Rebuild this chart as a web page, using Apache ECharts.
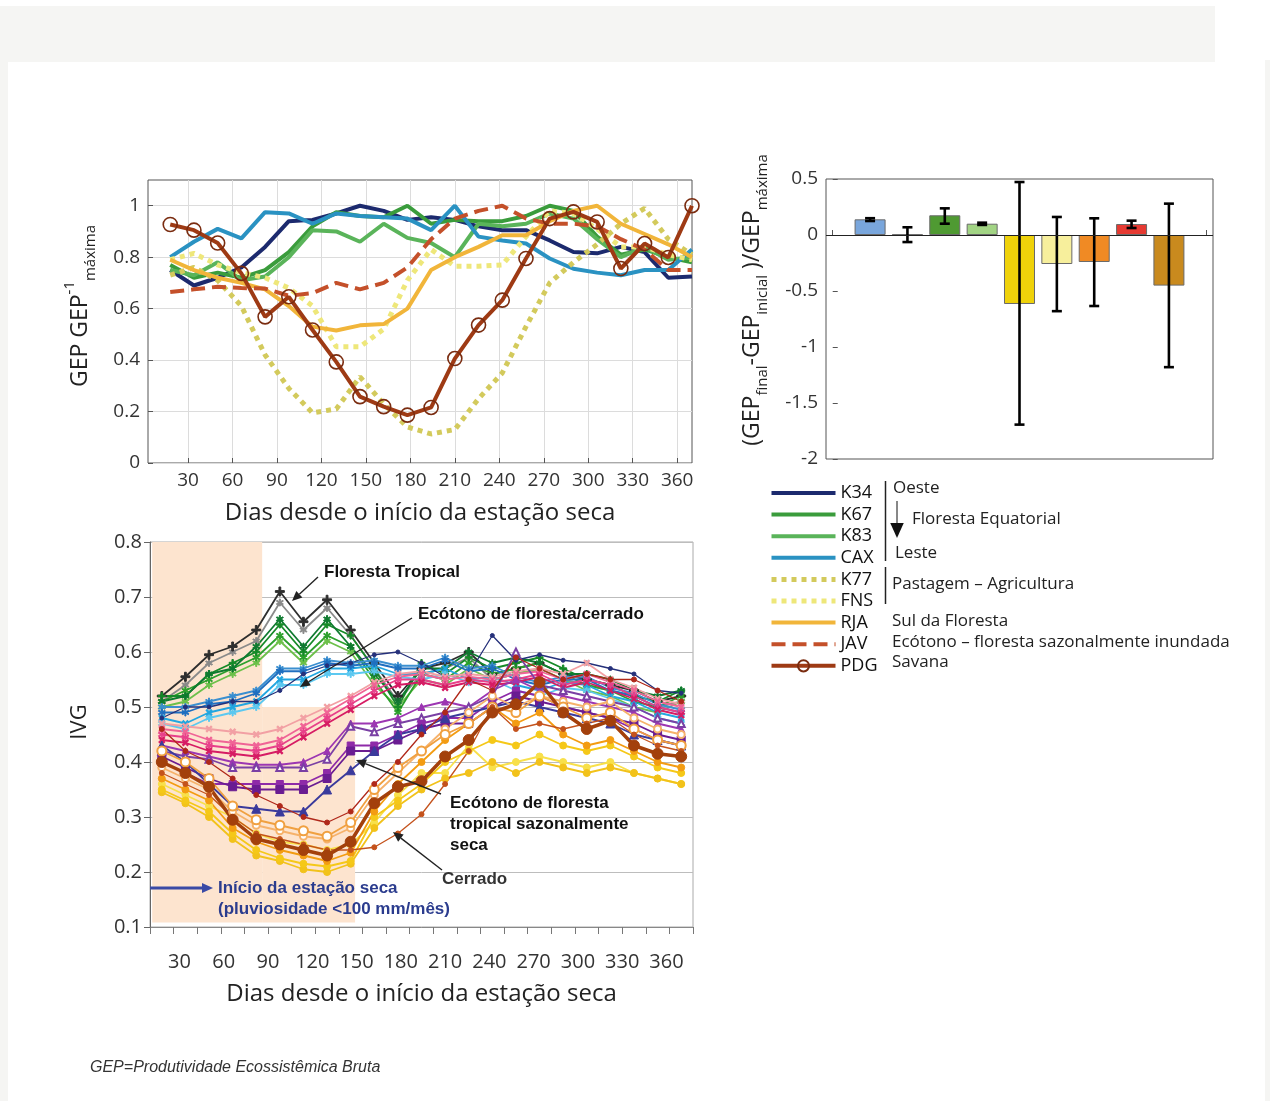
<!DOCTYPE html>
<html>
<head>
<meta charset="utf-8">
<script src="https://cdn.jsdelivr.net/npm/echarts@6/dist/echarts.min.js"></script>
<style>
  html, body { margin: 0; padding: 0; background: #fff; }
  #chart { width: 1270px; height: 1101px; }
</style>
</head>
<body>
<div id="chart"></div>
<script>
// ---- GEP / GEP máxima (compostos de 16 dias) ----
const gepDays = [18, 34, 50, 66, 82, 98, 114, 130, 146, 162, 178, 194, 210, 226, 242, 258, 274, 290, 306, 322, 338, 354, 370];
const k34 = [0.75, 0.69, 0.72, 0.76, 0.84, 0.94, 0.945, 0.97, 1.0, 0.98, 0.945, 0.955, 0.945, 0.92, 0.905, 0.905, 0.865, 0.82, 0.815, 0.84, 0.82, 0.72, 0.725];
const k67 = [0.77, 0.72, 0.74, 0.72, 0.75, 0.82, 0.92, 0.975, 0.96, 0.955, 1.0, 0.93, 0.945, 0.94, 0.94, 0.96, 1.0, 0.98, 0.88, 0.81, 0.83, 0.80, 0.78];
const k83 = [0.75, 0.73, 0.78, 0.71, 0.725, 0.80, 0.905, 0.90, 0.86, 0.93, 0.875, 0.855, 0.80, 0.93, 0.92, 0.93, 0.97, 0.95, 0.87, 0.80, 0.84, 0.79, 0.80];
const cax = [0.80, 0.86, 0.91, 0.873, 0.975, 0.97, 0.93, 0.97, 0.96, 0.955, 0.95, 0.905, 1.0, 0.88, 0.865, 0.853, 0.795, 0.755, 0.74, 0.73, 0.75, 0.75, 0.83];
const k77 = [0.73, 0.76, 0.71, 0.61, 0.42, 0.29, 0.195, 0.21, 0.335, 0.23, 0.14, 0.113, 0.13, 0.25, 0.35, 0.53, 0.70, 0.78, 0.85, 0.93, 0.99, 0.87, 0.81];
const fns = [0.79, 0.815, 0.77, 0.74, 0.72, 0.68, 0.61, 0.452, 0.452, 0.52, 0.71, 0.83, 0.765, 0.765, 0.77, 0.88, 0.98, 0.97, 0.91, 0.84, 0.84, 0.81, 0.79];
const rja = [0.79, 0.75, 0.72, 0.70, 0.675, 0.61, 0.53, 0.515, 0.535, 0.54, 0.60, 0.75, 0.80, 0.84, 0.885, 0.885, 0.94, 0.98, 1.0, 0.93, 0.89, 0.85, 0.80];
const jav = [0.665, 0.675, 0.685, 0.68, 0.678, 0.65, 0.66, 0.70, 0.675, 0.70, 0.76, 0.87, 0.95, 0.98, 1.0, 0.95, 0.93, 0.93, 0.92, 0.87, 0.83, 0.75, 0.75];
const pdg = [0.927, 0.905, 0.855, 0.737, 0.568, 0.646, 0.517, 0.393, 0.258, 0.219, 0.186, 0.216, 0.406, 0.536, 0.633, 0.795, 0.95, 0.976, 0.937, 0.756, 0.853, 0.799, 1.0];
const gepTicksX = [30, 60, 90, 120, 150, 180, 210, 240, 270, 300, 330, 360];
const gepTicksY = [0, 0.2, 0.4, 0.6, 0.8, 1];

// ---- (GEP final - GEP inicial)/GEP máxima ----
const barPos = [1, 2, 3, 4, 5, 6, 7, 8, 9];
const barValues = [0.14, 0.005, 0.176, 0.101, -0.616, -0.259, -0.241, 0.098, -0.452];
const barErrLow = [0.125, -0.063, 0.101, 0.09, -1.693, -0.68, -0.634, 0.0625, -1.18];
const barErrHigh = [0.15, 0.069, 0.238, 0.11, 0.473, 0.161, 0.149, 0.128, 0.28];
const barTicksY = [0.5, 0, -0.5, -1, -1.5, -2];
const barColors = ['#79a6dc', '#f3f3f1', '#4f9a32', '#a2d484', '#efd20a', '#f7ef9c', '#f08a24', '#e63a32', '#c98a1e'];

// ---- IVG ----
const ivgDays = [18, 34, 50, 66, 82, 98, 114, 130, 146, 162, 178, 194, 210, 226, 242, 258, 274, 290, 306, 322, 338, 354, 370];
const ivgTickDays = [10, 26, 42, 58, 74, 90, 106, 122, 138, 154, 170, 186, 202, 218, 234, 250, 266, 282, 298, 314, 330, 346, 362, 378];
const ivgLabelDays = [30, 60, 90, 120, 150, 180, 210, 240, 270, 300, 330, 360];
// Floresta Tropical
const trop1 = [0.52, 0.555, 0.595, 0.61, 0.64, 0.71, 0.655, 0.695, 0.64, 0.58, 0.52, 0.57, 0.58, 0.60, 0.56, 0.57, 0.58, 0.56, 0.55, 0.54, 0.53, 0.51, 0.52];
const trop2 = [0.51, 0.54, 0.58, 0.60, 0.62, 0.69, 0.64, 0.68, 0.63, 0.57, 0.51, 0.56, 0.57, 0.59, 0.55, 0.56, 0.57, 0.55, 0.54, 0.53, 0.52, 0.50, 0.51];
const trop3 = [0.52, 0.52, 0.56, 0.58, 0.60, 0.65, 0.60, 0.65, 0.63, 0.57, 0.50, 0.58, 0.56, 0.59, 0.57, 0.58, 0.59, 0.57, 0.55, 0.54, 0.52, 0.51, 0.53];
const trop4 = [0.51, 0.53, 0.55, 0.57, 0.59, 0.63, 0.59, 0.63, 0.61, 0.55, 0.49, 0.56, 0.55, 0.58, 0.56, 0.57, 0.58, 0.56, 0.54, 0.53, 0.51, 0.50, 0.52];
const trop5 = [0.50, 0.51, 0.54, 0.56, 0.58, 0.62, 0.58, 0.62, 0.60, 0.54, 0.50, 0.55, 0.54, 0.57, 0.55, 0.56, 0.57, 0.55, 0.53, 0.52, 0.50, 0.49, 0.51];
const trop6 = [0.51, 0.52, 0.56, 0.57, 0.61, 0.66, 0.61, 0.66, 0.61, 0.56, 0.51, 0.57, 0.57, 0.60, 0.58, 0.59, 0.58, 0.56, 0.56, 0.55, 0.53, 0.52, 0.53];
// Ecótono floresta/cerrado
const eco1 = [0.48, 0.50, 0.50, 0.51, 0.51, 0.53, 0.56, 0.575, 0.58, 0.595, 0.60, 0.58, 0.555, 0.56, 0.63, 0.585, 0.595, 0.585, 0.58, 0.57, 0.56, 0.53, 0.525];
const eco2 = [0.49, 0.49, 0.505, 0.51, 0.525, 0.565, 0.565, 0.58, 0.575, 0.58, 0.57, 0.57, 0.585, 0.565, 0.57, 0.55, 0.54, 0.55, 0.55, 0.53, 0.52, 0.50, 0.49];
const eco3 = [0.48, 0.47, 0.49, 0.50, 0.51, 0.55, 0.55, 0.57, 0.57, 0.575, 0.56, 0.56, 0.57, 0.55, 0.555, 0.54, 0.53, 0.545, 0.54, 0.52, 0.51, 0.49, 0.48];
const eco4 = [0.47, 0.46, 0.48, 0.49, 0.50, 0.54, 0.54, 0.56, 0.56, 0.565, 0.555, 0.55, 0.56, 0.545, 0.55, 0.53, 0.52, 0.535, 0.53, 0.515, 0.50, 0.48, 0.47];
const eco5 = [0.50, 0.50, 0.51, 0.52, 0.53, 0.57, 0.57, 0.585, 0.58, 0.585, 0.575, 0.575, 0.59, 0.57, 0.575, 0.555, 0.545, 0.555, 0.555, 0.535, 0.525, 0.505, 0.495];
// transição (rosas)
const pink1 = [0.45, 0.445, 0.43, 0.425, 0.42, 0.43, 0.455, 0.48, 0.505, 0.53, 0.55, 0.55, 0.54, 0.55, 0.545, 0.55, 0.56, 0.54, 0.55, 0.54, 0.52, 0.50, 0.49];
const pink2 = [0.46, 0.455, 0.44, 0.435, 0.43, 0.44, 0.465, 0.49, 0.515, 0.54, 0.555, 0.56, 0.55, 0.555, 0.55, 0.56, 0.565, 0.55, 0.56, 0.545, 0.53, 0.51, 0.50];
const pink3 = [0.47, 0.465, 0.46, 0.455, 0.45, 0.46, 0.48, 0.50, 0.52, 0.545, 0.56, 0.565, 0.555, 0.56, 0.555, 0.565, 0.57, 0.56, 0.58, 0.55, 0.535, 0.515, 0.505];
const pink4 = [0.44, 0.435, 0.42, 0.415, 0.41, 0.42, 0.445, 0.47, 0.495, 0.52, 0.54, 0.545, 0.535, 0.545, 0.54, 0.545, 0.555, 0.535, 0.545, 0.53, 0.515, 0.495, 0.485];
// Ecótono floresta tropical sazonalmente seca
const dry1 = [0.42, 0.41, 0.405, 0.39, 0.39, 0.39, 0.39, 0.405, 0.465, 0.455, 0.47, 0.48, 0.49, 0.50, 0.52, 0.60, 0.54, 0.53, 0.52, 0.51, 0.50, 0.48, 0.47];
const dry2 = [0.43, 0.42, 0.41, 0.40, 0.395, 0.395, 0.40, 0.42, 0.47, 0.47, 0.48, 0.50, 0.51, 0.50, 0.53, 0.55, 0.53, 0.52, 0.51, 0.50, 0.49, 0.47, 0.46];
const dry3 = [0.41, 0.39, 0.37, 0.355, 0.35, 0.35, 0.35, 0.37, 0.42, 0.42, 0.44, 0.46, 0.47, 0.47, 0.50, 0.52, 0.51, 0.50, 0.49, 0.48, 0.47, 0.45, 0.44];
const dry4 = [0.40, 0.38, 0.36, 0.36, 0.36, 0.36, 0.36, 0.38, 0.43, 0.43, 0.45, 0.47, 0.48, 0.48, 0.51, 0.53, 0.52, 0.50, 0.49, 0.48, 0.46, 0.44, 0.43];
const dry5 = [0.43, 0.40, 0.36, 0.32, 0.315, 0.31, 0.31, 0.35, 0.385, 0.42, 0.45, 0.46, 0.48, 0.49, 0.50, 0.51, 0.50, 0.49, 0.48, 0.47, 0.45, 0.44, 0.43];
// Cerrado
const cer1 = [0.40, 0.38, 0.355, 0.295, 0.26, 0.25, 0.24, 0.23, 0.255, 0.325, 0.355, 0.365, 0.41, 0.44, 0.49, 0.505, 0.545, 0.49, 0.46, 0.475, 0.43, 0.415, 0.41];
const cer2 = [0.42, 0.40, 0.37, 0.32, 0.295, 0.285, 0.275, 0.265, 0.29, 0.35, 0.39, 0.42, 0.45, 0.47, 0.50, 0.49, 0.52, 0.50, 0.48, 0.49, 0.46, 0.44, 0.43];
const cer3 = [0.35, 0.33, 0.31, 0.27, 0.24, 0.225, 0.215, 0.21, 0.22, 0.30, 0.33, 0.36, 0.40, 0.42, 0.44, 0.43, 0.45, 0.43, 0.42, 0.43, 0.41, 0.39, 0.38];
const cer4 = [0.37, 0.35, 0.33, 0.28, 0.255, 0.24, 0.23, 0.22, 0.235, 0.31, 0.36, 0.40, 0.44, 0.47, 0.50, 0.47, 0.49, 0.45, 0.43, 0.44, 0.42, 0.40, 0.39];
const cer5 = [0.36, 0.34, 0.32, 0.30, 0.27, 0.255, 0.25, 0.24, 0.25, 0.29, 0.34, 0.38, 0.38, 0.43, 0.39, 0.40, 0.41, 0.40, 0.39, 0.40, 0.38, 0.37, 0.36];
const cer6 = [0.38, 0.36, 0.34, 0.30, 0.27, 0.26, 0.25, 0.24, 0.24, 0.245, 0.27, 0.305, 0.36, 0.42, 0.50, 0.46, 0.47, 0.46, 0.47, 0.48, 0.45, 0.43, 0.42];
const cer7 = [0.46, 0.42, 0.40, 0.37, 0.34, 0.32, 0.30, 0.29, 0.31, 0.36, 0.40, 0.45, 0.49, 0.55, 0.53, 0.59, 0.57, 0.55, 0.56, 0.55, 0.55, 0.53, 0.51];
const cer8 = [0.39, 0.37, 0.35, 0.31, 0.285, 0.275, 0.265, 0.26, 0.28, 0.34, 0.38, 0.42, 0.46, 0.49, 0.52, 0.50, 0.52, 0.51, 0.50, 0.51, 0.48, 0.46, 0.45];
const cer9 = [0.345, 0.325, 0.30, 0.26, 0.23, 0.22, 0.205, 0.20, 0.215, 0.28, 0.32, 0.35, 0.37, 0.38, 0.40, 0.38, 0.40, 0.39, 0.38, 0.39, 0.38, 0.37, 0.36];

const FONT = '"Open Sans", "DejaVu Sans", sans-serif';
const ARIAL = '"Liberation Sans", Arial, sans-serif';

const PLUS = 'path://M4,0H6V4H10V6H6V10H4V6H0V4H4Z';
const STAR = 'path://M4.3,0H5.7V3.8L9,1.9L9.7,3.1L6.4,5L9.7,6.9L9,8.1L5.7,6.2V10H4.3V6.2L1,8.1L0.3,6.9L3.6,5L0.3,3.1L1,1.9L4.3,3.8Z';

const chart = echarts.init(document.getElementById('chart'));

// séries do painel superior esquerdo
const gepLines = [
  { name: 'K34', values: k34, color: '#1c2a6e' },
  { name: 'K67', values: k67, color: '#3a9c3c' },
  { name: 'K83', values: k83, color: '#5ab45a' },
  { name: 'CAX', values: cax, color: '#2a92c2' },
  { name: 'K77', values: k77, color: '#d3ca5c', type: 'dotted', width: 5 },
  { name: 'FNS', values: fns, color: '#eee77a', type: 'dotted', width: 5 },
  { name: 'RJA', values: rja, color: '#f1b53a' },
  { name: 'JAV', values: jav, color: '#c4502a', type: [14, 7] },
  { name: 'PDG', values: pdg, color: '#9e3a14', circles: true }
];

const gepSeries = gepLines.map(l => ({
  name: l.name,
  type: 'line',
  xAxisIndex: 0,
  yAxisIndex: 0,
  data: gepDays.map((d, i) => [d, l.values[i]]),
  symbol: l.circles ? 'circle' : 'none',
  symbolSize: 14,
  showSymbol: !!l.circles,
  itemStyle: l.circles ? { color: 'rgba(0,0,0,0)', borderColor: '#7a2c10', borderWidth: 1.6 } : { color: l.color },
  lineStyle: { color: l.color, width: l.width || 4, type: l.type || 'solid', cap: 'butt' },
  silent: true,
  z: 3
}));

// séries do IVG
const ivgLines = [
  { values: trop2, color: '#8a8a8a', symbol: STAR },
  { values: trop1, color: '#2e2e2e', symbol: PLUS, size: 9 },
  { values: trop5, color: '#6cc04a', symbol: STAR },
  { values: trop4, color: '#2ca02c', symbol: STAR },
  { values: trop3, color: '#168a28', symbol: PLUS },
  { values: trop6, color: '#0f7a30', symbol: STAR },
  { values: eco4, color: '#5cc8f0', symbol: STAR },
  { values: eco3, color: '#22a6e0', symbol: PLUS, rotate: 45 },
  { values: eco5, color: '#3b8fd0', symbol: STAR },
  { values: eco2, color: '#1f6fc0', symbol: STAR },
  { values: eco1, color: '#25307a', symbol: 'circle', size: 4, width: 1.3 },
  { values: pink3, color: '#f2a0a4', symbol: PLUS, rotate: 45 },
  { values: pink2, color: '#f06496', symbol: PLUS, rotate: 45 },
  { values: pink1, color: '#e8408a', symbol: STAR },
  { values: pink4, color: '#d61c64', symbol: PLUS, rotate: 45 },
  { values: dry2, color: '#9c36b2', symbol: 'triangle' },
  { values: dry1, color: '#7a40a4', symbol: 'emptyTriangle' },
  { values: dry4, color: '#8e2aa8', symbol: 'rect' },
  { values: dry3, color: '#6a1c92', symbol: 'rect', size: 8 },
  { values: dry5, color: '#3a3a9c', symbol: 'triangle', size: 9 },
  { values: cer5, color: '#f8e04a', symbol: 'circle' },
  { values: cer9, color: '#f2c21a', symbol: 'circle' },
  { values: cer3, color: '#f5c818', symbol: 'circle' },
  { values: cer4, color: '#f39c12', symbol: 'circle' },
  { values: cer8, color: '#f6b26b', symbol: 'emptyCircle' },
  { values: cer2, color: '#f0a040', symbol: 'emptyCircle', size: 9 },
  { values: cer6, color: '#c4521c', symbol: 'circle', size: 5, width: 1.3 },
  { values: cer7, color: '#b0281a', symbol: 'circle', size: 5, width: 1.3 },
  { values: cer1, color: '#a3400c', symbol: 'circle', size: 11, width: 3.5 }
];

const ivgSeries = ivgLines.map(l => ({
  type: 'line',
  xAxisIndex: 2,
  yAxisIndex: 2,
  data: ivgDays.map((d, i) => [d, l.values[i]]),
  symbol: l.symbol,
  symbolSize: l.size || 7,
  symbolRotate: l.rotate || 0,
  itemStyle: { color: l.color, borderColor: l.color },
  lineStyle: { color: l.color, width: l.width || 1.8 },
  silent: true,
  z: 3
}));

// faixa da estação seca
const shadeSeries = {
  type: 'line',
  xAxisIndex: 2,
  yAxisIndex: 2,
  data: [],
  silent: true,
  z: 1,
  markArea: {
    silent: true,
    itemStyle: { color: '#fde4cf' },
    data: [
      [{ coord: [11.5, 0.108] }, { coord: [86, 0.8] }],
      [{ coord: [86, 0.108] }, { coord: [149, 0.5] }]
    ]
  }
};

const barSeries = {
  type: 'bar',
  xAxisIndex: 1,
  yAxisIndex: 1,
  barWidth: 31,
  data: barValues.map((v, i) => ({ value: [barPos[i], v], itemStyle: { color: barColors[i] } })),
  itemStyle: { borderColor: '#6a6a6a', borderWidth: 1 },
  silent: true,
  z: 2,
  markLine: {
    silent: true,
    symbol: 'none',
    label: { show: false },
    lineStyle: { color: '#222', width: 1, type: 'solid' },
    data: [{ yAxis: 0 }]
  }
};

const errSeries = {
  type: 'custom',
  xAxisIndex: 1,
  yAxisIndex: 1,
  data: barPos.map((p, i) => [p, barErrLow[i], barErrHigh[i]]),
  encode: { x: 0, y: [1, 2] },
  silent: true,
  z: 4,
  renderItem: function (params, api) {
    const top = api.coord([api.value(0), api.value(2)]);
    const bot = api.coord([api.value(0), api.value(1)]);
    const cap = 5;
    const st = { stroke: '#000', lineWidth: 2.6 };
    return {
      type: 'group',
      children: [
        { type: 'line', shape: { x1: top[0], y1: top[1], x2: bot[0], y2: bot[1] }, style: st },
        { type: 'line', shape: { x1: top[0] - cap, y1: top[1], x2: top[0] + cap, y2: top[1] }, style: st },
        { type: 'line', shape: { x1: bot[0] - cap, y1: bot[1], x2: bot[0] + cap, y2: bot[1] }, style: st }
      ]
    };
  }
};

function arrow(x1, y1, x2, y2, color, w, head) {
  const a = Math.atan2(y2 - y1, x2 - x1);
  const h = head || 9;
  const bx = x2 - h * Math.cos(a), by = y2 - h * Math.sin(a);
  const px = -Math.sin(a) * h * 0.45, py = Math.cos(a) * h * 0.45;
  return {
    type: 'group',
    silent: true,
    children: [
      { type: 'line', z: 10, shape: { x1: x1, y1: y1, x2: bx, y2: by }, style: { stroke: color, lineWidth: w } },
      { type: 'polygon', z: 10, shape: { points: [[x2, y2], [bx + px, by + py], [bx - px, by - py]] }, style: { fill: color } }
    ]
  };
}

function txt(x, y, text, opts) {
  return {
    type: 'text', x: x, y: y, silent: true, z: 10,
    style: Object.assign({
      text: text, fontFamily: FONT, fontSize: 17, fill: '#222',
      align: 'left', verticalAlign: 'middle'
    }, opts || {})
  };
}

const annBold = { fontFamily: ARIAL, fontWeight: 'bold', fontSize: 17, fill: '#111' };
const annBlue = { fontFamily: ARIAL, fontWeight: 'bold', fontSize: 17, fill: '#2b3c8e' };

const richTitle = {
  m: { fontFamily: FONT, fontSize: 23, fill: '#222', lineHeight: 36 },
  sup: { fontFamily: FONT, fontSize: 15, fill: '#222', verticalAlign: 'top', lineHeight: 36 },
  sub: { fontFamily: FONT, fontSize: 15, fill: '#222', verticalAlign: 'bottom', lineHeight: 36 }
};

const graphics = [
  // fundo
  { type: 'rect', shape: { x: 0, y: 6, width: 1215, height: 56 }, style: { fill: '#f5f5f3' }, z: -10, silent: true },
  { type: 'rect', shape: { x: 0, y: 62, width: 8, height: 1039 }, style: { fill: '#f5f5f3' }, z: -10, silent: true },
  { type: 'rect', shape: { x: 1265, y: 60, width: 5, height: 1041 }, style: { fill: '#f5f5f3' }, z: -10, silent: true },
  // títulos dos eixos y
  {
    type: 'text', x: 80, y: 306, rotation: Math.PI / 2, silent: true,
    style: { text: '{m|GEP GEP}{sup|-1}{sub|máxima}', align: 'center', verticalAlign: 'middle', rich: richTitle }
  },
  {
    type: 'text', x: 752, y: 300, rotation: Math.PI / 2, silent: true,
    style: {
      text: '{m|(GEP}{sub|final}{m|-GEP}{sub|inicial}{m| )/GEP}{sub|máxima}',
      align: 'center', verticalAlign: 'middle', rich: richTitle
    }
  },
  {
    type: 'text', x: 80, y: 722, rotation: Math.PI / 2, silent: true,
    style: { text: 'IVG', fontFamily: FONT, fontSize: 22, fill: '#222', align: 'center', verticalAlign: 'middle' }
  },
  // legenda: descrições
  txt(893, 488, 'Oeste'),
  txt(912, 519, 'Floresta Equatorial'),
  txt(895, 553, 'Leste'),
  txt(892, 584, 'Pastagem – Agricultura'),
  txt(892, 621, 'Sul da Floresta'),
  txt(892, 642, 'Ecótono – floresta sazonalmente inundada'),
  txt(892, 662, 'Savana'),
  { type: 'line', silent: true, shape: { x1: 885.5, y1: 481, x2: 885.5, y2: 561 }, style: { stroke: '#222', lineWidth: 1.5 } },
  { type: 'line', silent: true, shape: { x1: 885.5, y1: 567, x2: 885.5, y2: 604 }, style: { stroke: '#222', lineWidth: 1.5 } },
  arrow(897, 501, 897, 538, '#111', 1, 15),
  // anotações do IVG
  txt(324, 572, 'Floresta Tropical', annBold),
  arrow(318, 577, 292, 601, '#222', 1.4, 10),
  txt(418, 614, 'Ecótono de floresta/cerrado', annBold),
  arrow(412, 618, 300, 687, '#222', 1.4, 10),
  txt(450, 803, 'Ecótono de floresta', annBold),
  txt(450, 824, 'tropical sazonalmente', annBold),
  txt(450, 845, 'seca', annBold),
  arrow(441, 794, 356, 760, '#222', 1.4, 10),
  txt(442, 879, 'Cerrado', Object.assign({}, annBold, { fill: '#333' })),
  arrow(442, 870, 393, 832, '#222', 1.4, 10),
  arrow(150, 888, 213, 888, '#3a4aa6', 3, 11),
  txt(218, 888, 'Início da estação seca', annBlue),
  txt(218, 909, '(pluviosidade <100 mm/mês)', annBlue),
  // nota
  txt(90, 1068, 'GEP=Produtividade Ecossistêmica Bruta', { fontFamily: ARIAL, fontStyle: 'italic', fontSize: 16, fill: '#333' })
];

const tickLabel = { fontFamily: FONT, fontSize: 19, color: '#333' };

chart.setOption({
  animation: false,
  backgroundColor: '#fff',
  grid: [
    { left: 148, top: 180, width: 544, height: 283, show: true, borderColor: '#555', borderWidth: 1 },
    { left: 826, top: 179, width: 387, height: 280, show: true, borderColor: '#555', borderWidth: 1 },
    { left: 150, top: 542, width: 543, height: 385, show: true, borderColor: '#aaa', borderWidth: 1 }
  ],
  legend: {
    orient: 'vertical',
    left: 764,
    top: 479,
    itemWidth: 64,
    itemHeight: 14,
    itemGap: 3.6,
    selectedMode: false,
    lineStyle: { width: 'inherit', type: 'inherit' },
    textStyle: { fontFamily: FONT, fontSize: 18, color: '#111', lineHeight: 14 },
    data: gepLines.map(l => l.circles
      ? { name: l.name }
      : { name: l.name, itemStyle: { opacity: 0 } })
  },
  xAxis: [
    {
      type: 'value', gridIndex: 0, min: 3, max: 370,
      axisLine: { show: false },
      axisTick: { show: true, inside: true, length: 5, customValues: gepTicksX, lineStyle: { color: '#555' } },
      axisLabel: { ...tickLabel, margin: 8, customValues: gepTicksX },
      splitLine: { show: true, lineStyle: { color: '#dcdcdc', width: 1 } },
      name: 'Dias desde o início da estação seca',
      nameLocation: 'middle', nameGap: 38,
      nameTextStyle: { fontFamily: FONT, fontSize: 24, color: '#222' }
    },
    {
      type: 'value', gridIndex: 1, min: -0.18, max: 10.18,
      axisLine: { show: false },
      axisTick: { show: true, inside: true, length: 5, customValues: [0, 5, 10], lineStyle: { color: '#555' } },
      axisLabel: { show: false },
      splitLine: { show: false }
    },
    {
      type: 'value', gridIndex: 2, min: 10, max: 378,
      axisLine: { show: true, lineStyle: { color: '#888' } },
      axisTick: { show: true, length: 7, customValues: ivgTickDays, lineStyle: { color: '#777' } },
      axisLabel: { ...tickLabel, fontSize: 20, margin: 25, customValues: ivgLabelDays },
      splitLine: { show: false },
      name: 'Dias desde o início da estação seca',
      nameLocation: 'middle', nameGap: 55,
      nameTextStyle: { fontFamily: FONT, fontSize: 24, color: '#222' }
    }
  ],
  yAxis: [
    {
      type: 'value', gridIndex: 0, min: 0, max: 1.1,
      axisLine: { show: false },
      axisTick: { show: true, inside: true, length: 5, customValues: gepTicksY, lineStyle: { color: '#555' } },
      axisLabel: { ...tickLabel, margin: 8, customValues: gepTicksY, formatter: v => String(+v.toFixed(1)) },
      splitLine: { show: true, lineStyle: { color: '#dcdcdc', width: 1 } }
    },
    {
      type: 'value', gridIndex: 1, min: -2, max: 0.5,
      axisLine: { show: false },
      axisTick: { show: true, inside: true, length: 5, customValues: barTicksY, lineStyle: { color: '#555' } },
      axisLabel: { ...tickLabel, margin: 8, customValues: barTicksY, formatter: v => String(+v.toFixed(1)) },
      splitLine: { show: false }
    },
    {
      type: 'value', gridIndex: 2, min: 0.1, max: 0.8, interval: 0.1,
      axisLine: { show: true, lineStyle: { color: '#666' } },
      axisTick: { show: true, length: 6, lineStyle: { color: '#666' } },
      axisLabel: { ...tickLabel, fontSize: 20, margin: 8, formatter: v => v.toFixed(1) },
      splitLine: { show: true, lineStyle: { color: '#bdbdbd', width: 1 } }
    }
  ],
  series: [shadeSeries].concat(gepSeries, [barSeries, errSeries], ivgSeries),
  graphic: graphics
});
</script>
</body>
</html>
